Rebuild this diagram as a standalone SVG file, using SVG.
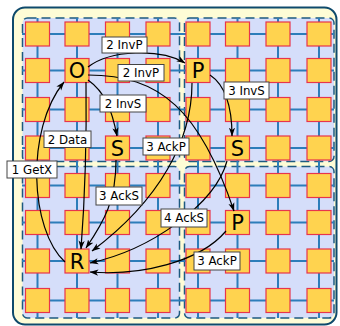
<svg xmlns="http://www.w3.org/2000/svg" width="340" height="326" viewBox="0 0 340 326">
<style>
.outer{fill:#fefcd6;stroke:#0e4a6c;stroke-width:2}
.quad{fill:#d5defa;stroke:#1d5a80;stroke-width:1.5;stroke-dasharray:9 5}
.grid{stroke:#2c7dba;stroke-width:2;fill:none}
.sq{fill:#ffd34f;stroke:#e8344c;stroke-width:1.2}
.nl{font-family:"DejaVu Sans",sans-serif;font-size:21px;text-anchor:middle;fill:#000}
.edge{fill:none;stroke:#000;stroke-width:1.2}
.lb rect{fill:#fff;stroke:#444;stroke-width:1}
.lb text{font-family:"DejaVu Sans",sans-serif;font-size:11.8px;text-anchor:middle;fill:#000}
</style>
<defs>
<marker id="ah" viewBox="0 0 10 8" refX="9.5" refY="4" markerWidth="9" markerHeight="7" orient="auto" markerUnits="userSpaceOnUse">
<path d="M0,0.5 L10,4 L0,7.5 L2.5,4 z" fill="#000"/>
</marker>
<rect id="s" x="-12" y="-12" width="24" height="24" class="sq"/>
</defs>
<rect class="outer" x="13" y="7.5" width="323.5" height="317" rx="12"/>
<g id="quadrants">
<rect class="quad" x="22.5" y="18" width="157" height="143.5" rx="5"/>
<rect class="quad" x="184.5" y="18" width="149.5" height="143.5" rx="5"/>
<rect class="quad" x="22.5" y="166.5" width="157" height="151.5" rx="5"/>
<rect class="quad" x="184.5" y="166.5" width="149.5" height="151.5" rx="5"/>
</g>
<g id="mesh" class="grid">
<path d="M37.5,18V318M77,18V318M117.5,18V318M158,18V318M198,18V318M237.5,18V318M278,18V318M319,18V318"/>
<path d="M22,34H334M22,70.5H334M22,109.5H334M22,148H334M22,185.5H334M22,222.5H334M22,261H334M22,300.5H334"/>
</g>
<g id="tiles">
<use href="#s" x="37.5" y="34"/><use href="#s" x="77" y="34"/><use href="#s" x="117.5" y="34"/><use href="#s" x="158" y="34"/><use href="#s" x="198" y="34"/><use href="#s" x="237.5" y="34"/><use href="#s" x="278" y="34"/><use href="#s" x="319" y="34"/>
<use href="#s" x="37.5" y="70.5"/><use href="#s" x="117.5" y="70.5"/><use href="#s" x="158" y="70.5"/><use href="#s" x="237.5" y="70.5"/><use href="#s" x="278" y="70.5"/><use href="#s" x="319" y="70.5"/>
<use href="#s" x="37.5" y="109.5"/><use href="#s" x="77" y="109.5"/><use href="#s" x="117.5" y="109.5"/><use href="#s" x="158" y="109.5"/><use href="#s" x="198" y="109.5"/><use href="#s" x="237.5" y="109.5"/><use href="#s" x="278" y="109.5"/><use href="#s" x="319" y="109.5"/>
<use href="#s" x="37.5" y="148"/><use href="#s" x="77" y="148"/><use href="#s" x="158" y="148"/><use href="#s" x="198" y="148"/><use href="#s" x="278" y="148"/><use href="#s" x="319" y="148"/>
<use href="#s" x="37.5" y="185.5"/><use href="#s" x="77" y="185.5"/><use href="#s" x="117.5" y="185.5"/><use href="#s" x="158" y="185.5"/><use href="#s" x="198" y="185.5"/><use href="#s" x="237.5" y="185.5"/><use href="#s" x="278" y="185.5"/><use href="#s" x="319" y="185.5"/>
<use href="#s" x="37.5" y="222.5"/><use href="#s" x="77" y="222.5"/><use href="#s" x="117.5" y="222.5"/><use href="#s" x="158" y="222.5"/><use href="#s" x="198" y="222.5"/><use href="#s" x="278" y="222.5"/><use href="#s" x="319" y="222.5"/>
<use href="#s" x="37.5" y="261"/><use href="#s" x="117.5" y="261"/><use href="#s" x="158" y="261"/><use href="#s" x="198" y="261"/><use href="#s" x="237.5" y="261"/><use href="#s" x="278" y="261"/><use href="#s" x="319" y="261"/>
<use href="#s" x="37.5" y="300.5"/><use href="#s" x="77" y="300.5"/><use href="#s" x="117.5" y="300.5"/><use href="#s" x="158" y="300.5"/><use href="#s" x="198" y="300.5"/><use href="#s" x="237.5" y="300.5"/><use href="#s" x="278" y="300.5"/><use href="#s" x="319" y="300.5"/>
</g>
<g id="node-O"><use href="#s" x="77" y="70.5"/><text class="nl" x="77" y="78">O</text></g>
<g id="node-P1"><use href="#s" x="198" y="70.5"/><text class="nl" x="198" y="78">P</text></g>
<g id="node-S1"><use href="#s" x="117.5" y="148"/><text class="nl" x="117.5" y="155.5">S</text></g>
<g id="node-S2"><use href="#s" x="237.5" y="148"/><text class="nl" x="237.5" y="155.5">S</text></g>
<g id="node-P2"><use href="#s" x="237.5" y="222.5"/><text class="nl" x="237.5" y="230">P</text></g>
<g id="node-R"><use href="#s" x="77" y="261"/><text class="nl" x="77" y="268.5">R</text></g>
<g id="connectors">
<path class="edge" marker-end="url(#ah)" d="M65,262 C30,230 25,130 64,82"/>
<path class="edge" marker-end="url(#ah)" d="M86,82 C87,160 84,210 81,249"/>
<path class="edge" marker-end="url(#ah)" d="M88,80 C105,92 112,110 117,136"/>
<path class="edge" marker-end="url(#ah)" d="M88,67 C110,50 160,48 185,63"/>
<path class="edge" marker-end="url(#ah)" d="M88,75 C160,75 200,110 234,211"/>
<path class="edge" marker-end="url(#ah)" d="M210,75 C225,85 232,105 232,136"/>
<path class="edge" marker-end="url(#ah)" d="M192,83 C192,140 160,200 92,251"/>
<path class="edge" marker-end="url(#ah)" d="M116,160 C116,200 105,220 86,248"/>
<path class="edge" marker-end="url(#ah)" d="M227,161 C215,205 150,250 90,263"/>
<path class="edge" marker-end="url(#ah)" d="M226,231 C200,262 140,276 90,272"/>
</g>
<g id="edge-labels">
<g class="lb"><rect x="102" y="37" width="45" height="16"/><text x="124.5" y="49.2">2 InvP</text></g>
<g class="lb"><rect x="118" y="64.5" width="46" height="16.5"/><text x="141" y="77">2 InvP</text></g>
<g class="lb"><rect x="100" y="95" width="46" height="17"/><text x="123" y="107.8">2 InvS</text></g>
<g class="lb"><rect x="44" y="131" width="47" height="16.5"/><text x="67.5" y="143.5">2 Data</text></g>
<g class="lb"><rect x="143" y="138" width="46" height="17"/><text x="166" y="150.8">3 AckP</text></g>
<g class="lb"><rect x="7" y="161" width="50" height="17"/><text x="32" y="173.8">1 GetX</text></g>
<g class="lb"><rect x="224" y="82" width="45" height="17"/><text x="246.5" y="94.8">3 InvS</text></g>
<g class="lb"><rect x="96" y="187" width="46" height="18"/><text x="119" y="200.3">3 AckS</text></g>
<g class="lb"><rect x="161" y="209" width="46" height="18"/><text x="184" y="222.3">4 AckS</text></g>
<g class="lb"><rect x="194" y="252" width="46" height="18"/><text x="217" y="265.3">3 AckP</text></g>
</g>
</svg>
